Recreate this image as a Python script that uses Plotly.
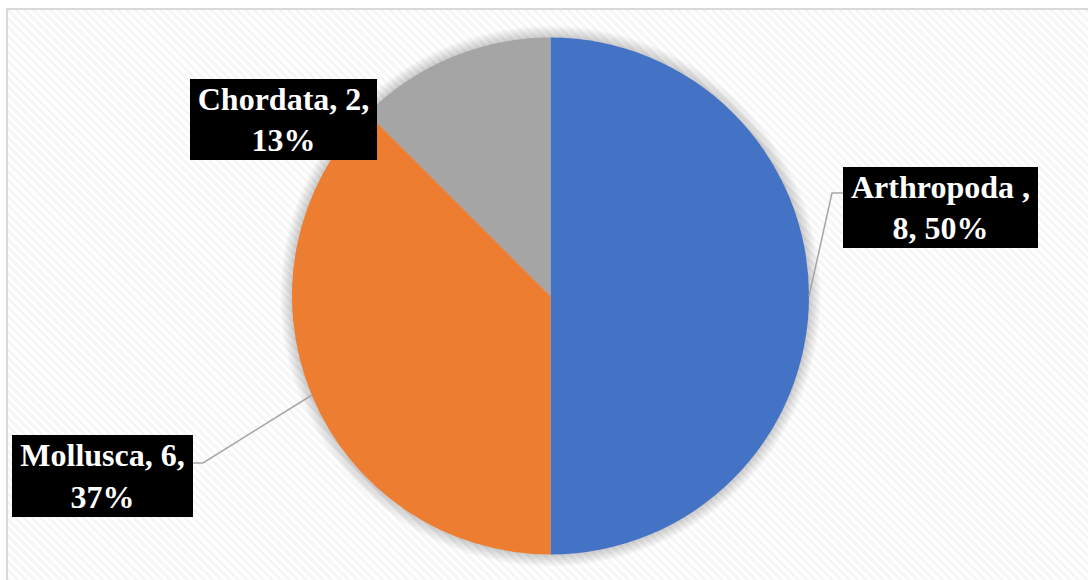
import plotly.graph_objects as go

# Phylum counts shown in the pie
phyla = ["Arthropoda ", "Mollusca", "Chordata"]
counts = [8, 6, 2]
percents = [50, 37, 13]
colors = ["#4472C4", "#ED7D31", "#A5A5A5"]
# how many comma-separated parts go on the first line of each label
first_line_parts = [1, 2, 2]

W, H = 1088, 580
cx, cy, r = 550.5, 296.0, 258.5


def px_x(v):
    return v / W


def px_y(v):
    return 1 - v / H


fig = go.Figure()

# hatched chart-area background
fig.add_trace(go.Bar(
    x=[0], y=[1], width=[1],
    marker=dict(color="white", line=dict(width=0),
                pattern=dict(shape="\\", fgcolor="#ececec", bgcolor="white",
                             size=6, solidity=0.45)),
    hoverinfo="skip", showlegend=False, xaxis="x", yaxis="y",
))

fig.add_trace(go.Pie(
    labels=phyla, values=counts, sort=False, direction="clockwise", rotation=0,
    marker=dict(colors=colors, line=dict(width=0)),
    textinfo="none", hoverinfo="label+value+percent", showlegend=False,
    domain=dict(x=[px_x(cx - r), px_x(cx + r)], y=[px_y(cy + r), px_y(cy - r)]),
))

shapes = []
# soft shadow around the pie (drawn on the overlay subplot, above the hatch)
for i in range(12):
    rr = r + 12 - i
    shapes.append(dict(type="circle", xref="x2", yref="y2", layer="below",
                       x0=cx - rr, x1=cx + rr, y0=cy - rr, y1=cy + rr,
                       fillcolor="rgba(0,0,0,0.016)", line=dict(width=0)))

# chart border
shapes.append(dict(type="rect", xref="paper", yref="paper", layer="above",
                   x0=px_x(7), x1=1.05, y0=-0.05, y1=px_y(9),
                   line=dict(color="#d9d9d9", width=2), fillcolor="rgba(0,0,0,0)"))

# leader lines from labels to slices
leaders = [
    "M 843 193 L 832 193 L 809 296",
    "M 193 463 L 203 463 L 312 395",
]
for p in leaders:
    shapes.append(dict(type="path", xref="x2", yref="y2", layer="above", path=p,
                       line=dict(color="#a6a6a6", width=1.5)))

# label boxes: centre x, centre y, width, height (pixels)
boxes = [
    (940.5, 207.5, 195, 81),
    (102.5, 476.0, 181, 82),
    (283.5, 119.5, 187, 81),
]
annotations = []
for name, n, pct, k, (bx, by, bw, bh) in zip(phyla, counts, percents, first_line_parts, boxes):
    parts = [f"{name},", f"{n},", f"{pct}%"]
    text = " ".join(parts[:k]) + "<br>" + " ".join(parts[k:])
    annotations.append(dict(
        x=bx, y=by, xref="x2", yref="y2", xanchor="center", yanchor="middle",
        text=text, showarrow=False, align="center", valign="middle",
        width=bw, height=bh, bgcolor="black", borderpad=0, borderwidth=0,
        font=dict(family="Liberation Serif", size=32, color="white", weight="bold"),
    ))

fig.update_layout(
    width=W, height=H,
    margin=dict(l=0, r=0, t=0, b=0),
    paper_bgcolor="white", plot_bgcolor="rgba(0,0,0,0)",
    bargap=0,
    xaxis=dict(domain=[px_x(8), 1], range=[-0.5, 0.5], visible=False, fixedrange=True),
    yaxis=dict(domain=[0, px_y(10)], range=[0, 1], visible=False, fixedrange=True),
    xaxis2=dict(domain=[0, 1], range=[0, W], visible=False, anchor="y2", fixedrange=True),
    yaxis2=dict(domain=[0, 1], range=[H, 0], visible=False, anchor="x2", fixedrange=True),
    shapes=shapes, annotations=annotations,
)

fig.write_html("out.html")
